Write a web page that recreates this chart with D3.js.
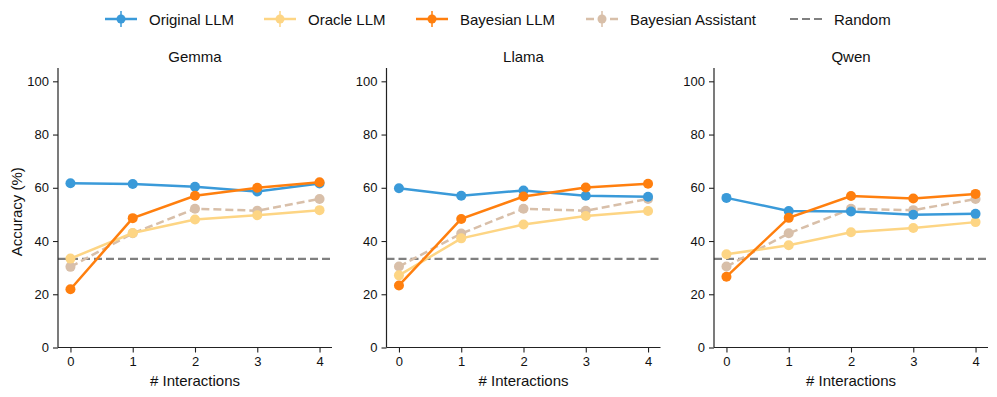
<!DOCTYPE html>
<html>
<head>
<meta charset="utf-8">
<script src="https://cdn.jsdelivr.net/npm/d3@7"></script>
<style>
  body { margin: 0; background: white; }
  svg { font-family: "Liberation Sans", Arial, sans-serif; }
</style>
</head>
<body>
<div id="chart"></div>
<script>
// data
const models = ['Gemma', 'Llama', 'Qwen'];
const interactions = [0, 1, 2, 3, 4];
const yTicks = [0, 20, 40, 60, 80, 100];
const randomLevel = 33.3;

const seriesNames = ['Original LLM', 'Oracle LLM', 'Bayesian LLM', 'Bayesian Assistant'];
const seriesColors = ['#3a9ad9', '#fdd584', '#ff7f0e', '#d8bfa9'];
const seriesDashed = [false, false, false, true];

const gemmaOriginal  = [61.7, 61.4, 60.4, 58.6, 61.6];
const gemmaOracle    = [33.4, 43.0, 48.1, 49.7, 51.6];
const gemmaBayesian  = [21.9, 48.6, 57.0, 60.0, 62.1];
const gemmaAssistant = [30.3, 42.9, 52.1, 51.4, 55.8];

const llamaOriginal  = [59.8, 57.0, 59.0, 57.0, 56.6];
const llamaOracle    = [27.1, 41.0, 46.2, 49.4, 51.3];
const llamaBayesian  = [23.3, 48.3, 56.7, 60.1, 61.5];
const llamaAssistant = [30.4, 42.8, 52.1, 51.4, 55.8];

const qwenOriginal  = [56.2, 51.3, 51.1, 49.9, 50.2];
const qwenOracle    = [35.0, 38.4, 43.3, 44.9, 47.1];
const qwenBayesian  = [26.6, 48.7, 56.9, 56.0, 57.7];
const qwenAssistant = [30.4, 42.9, 52.1, 51.6, 55.8];

const panelData = [
  [gemmaOriginal, gemmaOracle, gemmaBayesian, gemmaAssistant],
  [llamaOriginal, llamaOracle, llamaBayesian, llamaAssistant],
  [qwenOriginal, qwenOracle, qwenBayesian, qwenAssistant]
];

const W = 997, H = 397;
let svg = d3.select('#chart').append('svg')
  .attr('width', W).attr('height', H);

const panelLeft = [58, 386.5, 714];
const panelW = 274;
const plotTop = 68, plotBottom = 347.5;

let y = d3.scaleLinear().domain([0, 105]).range([plotBottom, plotTop]);

panelLeft.forEach(function(left, p) {
  let x = d3.scaleLinear().domain([-0.2, 4.2]).range([left, left + panelW]);
  let g = svg.append('g');

  // random baseline
  g.append('line')
    .attr('x1', left).attr('x2', left + panelW)
    .attr('y1', y(randomLevel)).attr('y2', y(randomLevel))
    .attr('stroke', '#808080').attr('stroke-width', 2.2)
    .attr('stroke-dasharray', '8,4');

  let line = d3.line().x((d, i) => x(interactions[i])).y(d => y(d));

  // draw assistant first so the LLM lines sit on top
  [3, 1, 0, 2].forEach(function(s) {
    let vals = panelData[p][s];
    g.append('path')
      .attr('d', line(vals))
      .attr('fill', 'none')
      .attr('stroke', seriesColors[s])
      .attr('stroke-width', 2.5)
      .attr('stroke-dasharray', seriesDashed[s] ? '8,4' : null);
    g.selectAll(null).data(vals).enter().append('circle')
      .attr('cx', (d, i) => x(interactions[i]))
      .attr('cy', d => y(d))
      .attr('r', 5)
      .attr('fill', seriesColors[s]);
  });

  // axes
  let xAxis = d3.axisBottom(x).tickValues(interactions).tickFormat(d3.format('d')).tickSize(5).tickPadding(4);
  let ga = g.append('g').attr('transform', 'translate(0,' + plotBottom + ')').call(xAxis);
  let yAxis = d3.axisLeft(y).tickValues(yTicks).tickFormat(d3.format('d')).tickSize(5).tickPadding(4);
  let gy = g.append('g').attr('transform', 'translate(' + left + ',0)').call(yAxis);
  [ga, gy].forEach(function(a) {
    a.selectAll('.domain').attr('stroke', '#222').attr('stroke-width', 1.2)
      .attr('d', a === ga ? 'M' + left + ',0H' + (left + panelW) : 'M0,' + plotBottom + 'V' + plotTop);
    a.selectAll('.tick line').attr('stroke', '#222').attr('stroke-width', 1.1);
    a.selectAll('.tick text').attr('font-size', 13).attr('fill', '#111')
      .attr('font-family', '"Liberation Sans", Arial, sans-serif');
  });

  g.append('text')
    .attr('x', left + panelW / 2).attr('y', 62)
    .attr('text-anchor', 'middle').attr('font-size', 15).attr('fill', '#111')
    .text(models[p]);

  g.append('text')
    .attr('x', left + panelW / 2).attr('y', 386)
    .attr('text-anchor', 'middle').attr('font-size', 15).attr('fill', '#111')
    .text('# Interactions');
});

svg.append('text')
  .attr('transform', 'translate(22,' + ((plotTop + plotBottom) / 2 + 4) + ') rotate(-90)')
  .attr('text-anchor', 'middle').attr('font-size', 15).attr('fill', '#111')
  .text('Accuracy (%)');

// legend
const legendX = [105, 264, 416, 586, 790];
const legendLabels = seriesNames.concat(['Random']);
legendLabels.forEach(function(name, i) {
  let lx = legendX[i], ly = 19;
  let lg = svg.append('g');
  if (i < 4) {
    lg.append('line').attr('x1', lx).attr('x2', lx + 32).attr('y1', ly).attr('y2', ly)
      .attr('stroke', seriesColors[i]).attr('stroke-width', 2.5)
      .attr('stroke-dasharray', seriesDashed[i] ? '8,4' : null);
    lg.append('line').attr('x1', lx + 16).attr('x2', lx + 16).attr('y1', ly - 8).attr('y2', ly + 8)
      .attr('stroke', seriesColors[i]).attr('stroke-width', 1.5);
    lg.append('circle').attr('cx', lx + 16).attr('cy', ly).attr('r', 4.5).attr('fill', seriesColors[i]);
  } else {
    lg.append('line').attr('x1', lx).attr('x2', lx + 32).attr('y1', ly).attr('y2', ly)
      .attr('stroke', '#808080').attr('stroke-width', 2.2).attr('stroke-dasharray', '8,4');
  }
  lg.append('text').attr('x', lx + 44).attr('y', ly + 5.5)
    .attr('font-size', 15).attr('fill', '#111').text(name);
});
</script>
</body>
</html>
